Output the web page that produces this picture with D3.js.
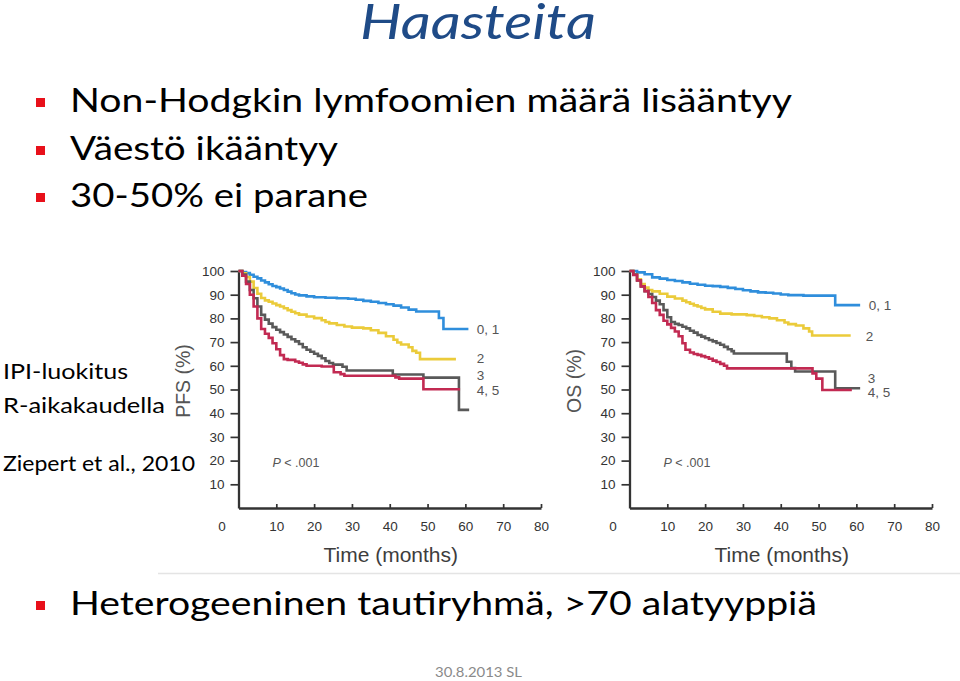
<!DOCTYPE html>
<html><head><meta charset="utf-8">
<script src="https://cdn.jsdelivr.net/npm/d3@7"></script>
<style>
html,body{margin:0;padding:0;background:#fff;}
svg{display:block;}
</style></head>
<body>
<svg id="chart" width="960" height="681"></svg>
<script>
// ---------- data ----------
const titleText = "Haasteita";
const bulletsTop = ["Non-Hodgkin lymfoomien määrä lisääntyy", "Väestö ikääntyy", "30-50% ei parane"];
const bulletBottom = "Heterogeeninen tautiryhmä, >70 alatyyppiä";
const sideNotes = ["IPI-luokitus", "R-aikakaudella", "Ziepert et al., 2010"];
const footerText = "30.8.2013 SL";

const xTicks = [0, 10, 20, 30, 40, 50, 60, 70, 80];
const yTicks = [10, 20, 30, 40, 50, 60, 70, 80, 90, 100];
const groupLabels = ["0, 1", "2", "3", "4, 5"];
const pText = ".001";

// PFS (%) by IPI group, [months, percent]
const pfsIpi01 = [[0,100],[1,99.6],[2,99.1],[3,98.4],[4,97.6],[5,96.9],[6,96],[7,95.2],[8,94.4],[9,93.7],[10,93.2],[11,92.6],[12,92],[13,91.3],[14,90.6],[15,90.1],[16,89.7],[18,89.3],[20,88.9],[23,88.7],[26,88.5],[29,88.3],[31,87.9],[33,87.4],[35,87],[37,86.5],[39,86],[41,85.4],[43,84.6],[45,83.7],[47,82.9],[53,80.2],[54.2,75.5],[60.8,75.5]];
const pfsIpi2 = [[0,100],[1,99],[2,97.5],[3,95.5],[4,92.8],[5,90.4],[6,88.6],[7,87.6],[8,87],[9,86.3],[10,85.6],[11,85],[12,84.3],[13,83.5],[14,82.8],[15,82.2],[16,81.6],[18,80.8],[20,80.1],[22,79.2],[23,78.5],[24,77.9],[26,77.2],[28,76.6],[30,76.1],[33,75.8],[35,75],[37,73.9],[39,72.5],[41,71],[42,69.8],[43,69],[45,67.8],[46,66.3],[47,65.5],[48,62.8],[57.5,62.8]];
const pfsIpi3 = [[0,100],[1,98.5],[2,95.5],[3,92],[4,88.5],[5,85],[6,81.5],[7,79.5],[8,77.8],[9,76.3],[10,75.2],[11,74.2],[12,73.2],[13,72.2],[14,71.2],[15,70.3],[16,69.2],[17,67.8],[18,66.8],[19,65.9],[20,65.1],[21,64.2],[22,63.2],[23,62],[24,61.2],[25,60.5],[27.5,59.6],[28.6,58],[40.8,56.3],[48.9,55],[58.3,41.4],[61,41.4]];
const pfsIpi45 = [[0,100],[1,98],[2,94.5],[3,90],[4,85],[5,80],[6,75.5],[7,73.5],[8,71.8],[9,69.5],[10,67],[11,64.5],[12,62.8],[13,62.5],[15,61.8],[16,61.3],[17,60.6],[18,60],[22,59.7],[25.2,57.3],[27,56.5],[28,55.8],[41.5,55.1],[42.5,54.6],[48.9,50.1],[58.6,50.1]];

// OS (%) by IPI group, [months, percent]
const osIpi01 = [[0,100],[2,99.4],[4,98.6],[6,97.3],[8,96.8],[10,96.2],[12,95.8],[14,95.2],[16,94.6],[18,94.2],[20,93.8],[22,93.6],[24,93.3],[26,92.9],[28,92.4],[30,91.9],[32,91.4],[34,91],[36,90.8],[38,90.5],[40,90.1],[42,89.8],[46,89.6],[54.4,85.6],[61,85.6]];
const osIpi2 = [[0,100],[1,98.5],[2,96.5],[3,94.5],[4,93],[5,92],[6,91.4],[8,90.4],[10,89.2],[12,88.4],[14,87.5],[15,86.8],[16,86.2],[17,85.5],[18,85],[19,84.4],[20,83.8],[22,82.8],[24,82],[27,81.7],[31,81.4],[33,81],[35,80.5],[37,80],[39,79.2],[41,78.3],[42,77.6],[44,77],[46,75.8],[47.5,74.5],[48.3,72.8],[58.5,72.8]];
const osIpi3 = [[0,100],[1,98.5],[2,96],[3,93.5],[4,91.5],[5,90.3],[6,89],[7,87.5],[8,86],[9,83.5],[10,80.5],[11,78.5],[12,77.7],[13,77.2],[14,76.5],[15,75.8],[16,74.8],[17,74],[18,73],[19,72.3],[20,71.6],[21,70.9],[22,70.3],[23,69.6],[24,68.9],[25,68],[26,67],[27,66.2],[27.6,65.2],[41.6,61.7],[42.8,59],[43.8,57.6],[54.4,50.5],[61,50.5]];
const osIpi45 = [[0,100],[1,98.3],[2,96],[3,93.5],[4,91.5],[5,89],[6,86.5],[7,83.5],[8,81.5],[9,79],[10,77.5],[11,76],[12,74.5],[13,72.5],[14,69.5],[14.8,66.8],[16,65.6],[17,65],[18,64.6],[19,64.1],[20,63.6],[21,63],[22,62.2],[23,61.6],[24,60.8],[25,60],[25.8,58.9],[48.4,56.8],[49.4,54.6],[51,49.8],[58.8,49.8]];

// label anchor positions [months, percent]
const pfsLabelPos = [[63,75.5],[63,63.3],[63,56.2],[63,49.8]];
const osLabelPos = [[63.3,85.7],[62.5,72.3],[63,54.9],[63,49]];

const groupColors = ["#2F8EDC", "#EBCB3A", "#595959", "#C22A52"];

// ---------- drawing ----------
const svg = d3.select("#chart");
const slideFont = "Lato, 'Open Sans', sans-serif";
const chartFont = "'Liberation Sans', Arial, sans-serif";

function fitText(sel, width) {
  sel.attr("textLength", width).attr("lengthAdjust", "spacingAndGlyphs");
}

// title
svg.append("text").attr("x", 360).attr("y", 39)
  .attr("font-family", slideFont).attr("font-style", "italic")
  .attr("font-size", 49).attr("fill", "#1F4B87")
  .text(titleText).call(fitText, 236);

// top bullets
const topY = [112, 160, 207];
const topW = [722, 268, 298];
bulletsTop.forEach((t, i) => {
  svg.append("rect").attr("x", 36).attr("y", topY[i] - 14).attr("width", 9).attr("height", 9).attr("fill", "#E8101A");
  svg.append("text").attr("x", 70).attr("y", topY[i])
    .attr("font-family", slideFont).attr("font-size", 33).attr("fill", "#000")
    .text(t).call(fitText, topW[i]);
});

// bottom bullet
svg.append("rect").attr("x", 36).attr("y", 601).attr("width", 9).attr("height", 9).attr("fill", "#E8101A");
svg.append("text").attr("x", 70).attr("y", 615)
  .attr("font-family", slideFont).attr("font-size", 33).attr("fill", "#000")
  .text(bulletBottom).call(fitText, 747);

// side notes
const noteY = [379, 413, 471];
const noteW = [125, 162, 192];
sideNotes.forEach((t, i) => {
  svg.append("text").attr("x", 3).attr("y", noteY[i])
    .attr("font-family", slideFont).attr("font-size", 21).attr("fill", "#000")
    .text(t).call(fitText, noteW[i]);
});

// footer
svg.append("text").attr("x", 435).attr("y", 677)
  .attr("font-family", slideFont).attr("font-size", 12.5).attr("fill", "#8A8A8A")
  .text(footerText).call(fitText, 87);

// separator line below the figure
svg.append("line").attr("x1", 158).attr("x2", 960).attr("y1", 573.5).attr("y2", 573.5)
  .attr("stroke", "#e4e4e4").attr("stroke-width", 1.5);

function drawPanel(x0, yLabel, series, labelPos) {
  const x = d3.scaleLinear().domain([0, 80]).range([x0, x0 + 302.5]);
  const y = d3.scaleLinear().domain([0, 100]).range([508, 271]);
  const g = svg.append("g");

  // y axis
  const ya = g.append("g").attr("transform", `translate(${x0},0)`)
    .call(d3.axisLeft(y).tickValues(yTicks).tickSize(8).tickPadding(6).tickSizeOuter(0));
  // x axis
  const xa = g.append("g").attr("transform", `translate(0,${y(0)})`)
    .call(d3.axisBottom(x).tickValues(xTicks).tickSize(-4).tickPadding(13).tickSizeOuter(0));
  xa.selectAll(".tick").filter(d => d === 0).select("text").attr("dx", -17);
  xa.selectAll(".tick").filter(d => d === 0).select("line").remove();
  [ya, xa].forEach(a => {
    a.select(".domain").attr("stroke", "#333").attr("stroke-width", 2.3);
    a.selectAll(".tick line").attr("stroke", "#333").attr("stroke-width", 1.7);
    a.selectAll(".tick text").attr("font-family", chartFont).attr("font-size", 13.5).attr("fill", "#333");
  });

  // axis titles
  g.append("text").attr("x", (x(0) + x(80)) / 2 + 1).attr("y", 562)
    .attr("text-anchor", "middle").attr("font-family", chartFont).attr("font-size", 21).attr("fill", "#3d3d3d")
    .text("Time (months)");
  g.append("text").attr("transform", `translate(${x0 - 49},381) rotate(-90)`)
    .attr("text-anchor", "middle").attr("font-family", chartFont).attr("font-size", 19.5).attr("fill", "#555")
    .text(yLabel);

  // P value
  const pt = g.append("text").attr("x", x(9)).attr("y", y(17.3))
    .attr("font-family", chartFont).attr("font-size", 12.5).attr("fill", "#555");
  pt.append("tspan").attr("font-style", "italic").text("P");
  pt.append("tspan").text(" < " + pText);

  // curves
  const line = d3.line().x(d => x(d[0])).y(d => y(d[1])).curve(d3.curveStepAfter);
  series.forEach((s, i) => {
    g.append("path").datum(s).attr("d", line).attr("fill", "none")
      .attr("stroke", groupColors[i]).attr("stroke-width", 2.6).attr("stroke-linejoin", "miter");
  });

  // group labels
  groupLabels.forEach((t, i) => {
    g.append("text").attr("x", x(labelPos[i][0])).attr("y", y(labelPos[i][1])).attr("dy", "0.35em")
      .attr("font-family", chartFont).attr("font-size", 13.5).attr("fill", "#555").text(t);
  });
}

drawPanel(238.5, "PFS (%)", [pfsIpi01, pfsIpi2, pfsIpi3, pfsIpi45], pfsLabelPos);
drawPanel(629.5, "OS (%)", [osIpi01, osIpi2, osIpi3, osIpi45], osLabelPos);
</script>
</body></html>
